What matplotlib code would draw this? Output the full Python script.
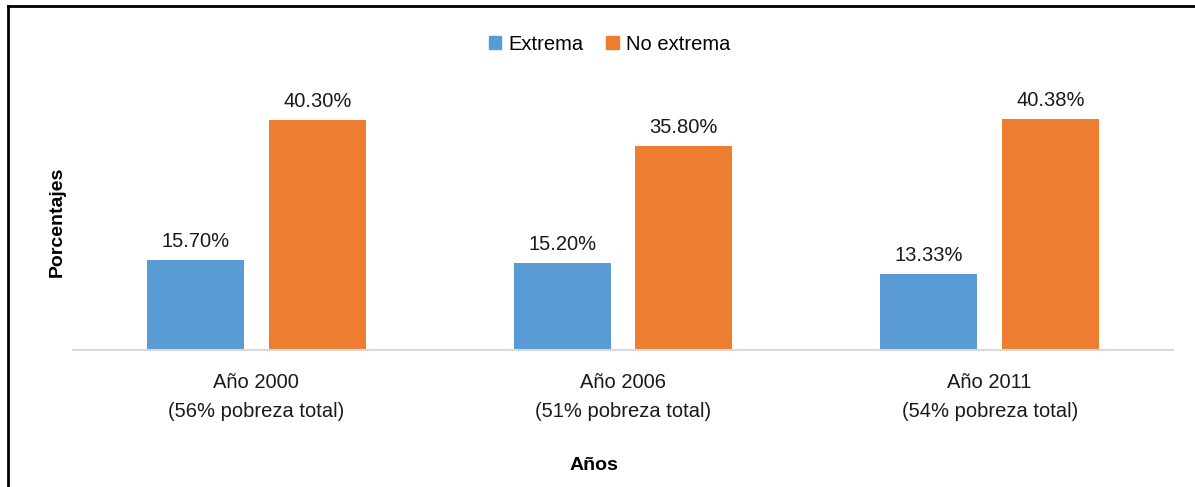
import matplotlib
matplotlib.use("Agg")
import matplotlib.pyplot as plt
from matplotlib.lines import Line2D
from matplotlib.patches import Patch
import numpy as np

categories = ["Año 2000\n(56% pobreza total)", "Año 2006\n(51% pobreza total)", "Año 2011\n(54% pobreza total)"]
extrema = [15.70, 15.20, 13.33]
no_extrema = [40.30, 35.80, 40.38]
series_names = ["Extrema", "No extrema"]

plt.rcParams['font.family'] = ['Liberation Sans', 'DejaVu Sans']

W, H = 1195, 487
fig = plt.figure(figsize=(W / 100, H / 100), dpi=100)

ax_left, ax_right = 73, 1173
ax_bottom_px = 350
ymax = 45
scale = 5.71
ax_top_px = ax_bottom_px - ymax * scale
ax = fig.add_axes([ax_left / W, (H - ax_bottom_px) / H, (ax_right - ax_left) / W, (ax_bottom_px - ax_top_px) / H])

x = np.arange(len(categories))
bw = 0.265
off = 0.166
c1, c2 = "#5B9BD5", "#ED7D31"
b1 = ax.bar(x - off, extrema, bw, color=c1)
b2 = ax.bar(x + off, no_extrema, bw, color=c2)

for bars, vals in ((b1, extrema), (b2, no_extrema)):
    for b, v in zip(bars, vals):
        ax.annotate(f"{v:.2f}%", (b.get_x() + b.get_width() / 2, v), xytext=(0, 6.5),
                    textcoords="offset points", ha="center", va="bottom", fontsize=14.5,
                    color="#1a1a1a")

ax.set_xlim(-0.5, len(categories) - 0.5)
ax.set_ylim(0, ymax)
ax.set_yticks([])
ax.set_xticks(x)
ax.set_xticklabels(categories, fontsize=14.5, color="#1a1a1a", linespacing=1.65)
ax.tick_params(axis='x', length=0, pad=16.5)
for s in ["top", "right", "left"]:
    ax.spines[s].set_visible(False)
ax.spines["bottom"].set_color("#d9d9d9")
ax.spines["bottom"].set_linewidth(1.5)

fig.text(57 / W, 1 - 222 / H, "Porcentajes", rotation=90, ha="center", va="center",
         fontsize=14, fontweight="bold")
fig.text(594 / W, 1 - 466 / H, "Años", ha="center", va="center", fontsize=14, fontweight="bold")

handles = [Patch(color=c1), Patch(color=c2)]
fig.legend(handles, series_names, loc="center", bbox_to_anchor=(609.5 / W, 1 - 44 / H), ncol=2,
           frameon=False, fontsize=14.5, handlelength=0.6, handleheight=0.6,
           handletextpad=0.35, columnspacing=1.15)

fig.add_artist(Line2D([8 / W, 8 / W], [0, 1 - 6 / H], color="black", lw=2, transform=fig.transFigure))
fig.add_artist(Line2D([8 / W, 1], [1 - 6 / H, 1 - 6 / H], color="black", lw=2, transform=fig.transFigure))

fig.savefig("out.png", dpi=100)
